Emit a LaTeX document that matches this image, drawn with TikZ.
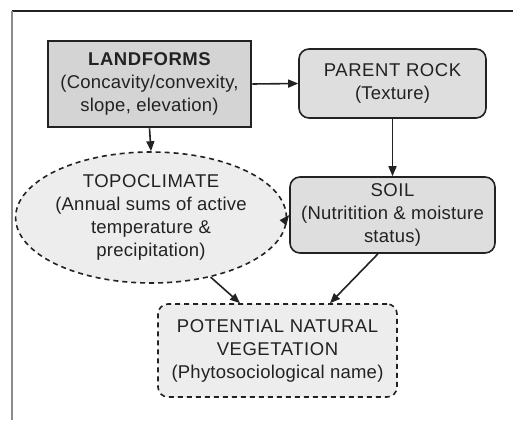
\documentclass[tikz,border=0pt]{standalone}
\usepackage{fontspec}
\setmainfont{Liberation Sans}[LetterSpace=1.3]
\newfontfamily\capsfont{Liberation Sans}[LetterSpace=3]
\usetikzlibrary{arrows.meta,shapes.geometric}
\definecolor{ink}{HTML}{222222}
\begin{document}
\begin{tikzpicture}[x=1pt,y=-1pt,
 every node/.style={align=center, inner sep=0pt, text=ink, font=\fontsize{18.5}{23}\selectfont},
 solidbox/.style={draw=ink, line width=1.6pt, fill=black!13, rounded corners=10pt},
 dashbox/.style={draw=ink, line width=1.6pt, dashed, dash pattern=on 5pt off 4pt, fill=black!7},
 arr/.style={-{Triangle[length=10pt,width=8pt]}, line width=1.6pt, draw=ink}]
\useasboundingbox (0,0) rectangle (513,420);
\fill[white] (0,0) rectangle (513,420);
\draw[ink, line width=1.3pt] (12,11) -- (513,11);
\draw[black!45, line width=1.8pt] (12,11) -- (12,420);
\node[draw=ink, line width=2.6pt, fill=black!17, minimum width=203, minimum height=86] (land) at (149.5,84)
 {{\capsfont\bfseries LANDFORMS}\\(Concavity/convexity,\\slope, elevation)};
\node[solidbox, minimum width=187, minimum height=69] (rock) at (392.5,83.5)
 {{\capsfont PARENT ROCK}\\(Texture)};
\node[solidbox, minimum width=205, minimum height=76] (soil) at (392.5,215)
 {{\capsfont SOIL}\\(Nutritition \& moisture\\status)};
\node[dashbox, ellipse, minimum width=218, minimum height=131] (topo) at (151,217.5)
 {{\capsfont TOPOCLIMATE}\\(Annual sums of active\\temperature \&\\precipitation)};
\node[dashbox, rounded corners=10pt, minimum width=239, minimum height=93] (pnv) at (277.5,350.5)
 {{\capsfont POTENTIAL NATURAL}\\{\capsfont VEGETATION}\\(Phytosociological name)};
\draw[arr] (land.east) -- (rock.west);
\draw[arr] (land.south) -- (topo.north);
\draw[arr] (rock.south) -- (soil.north);
\draw[arr] (topo.east) -- (soil.west);
\draw[arr] (topo.-45) -- (pnv.north -| 240,0);
\draw[arr] (soil.south -| 378,0) -- (pnv.north -| 330,0);
\end{tikzpicture}
\end{document}
